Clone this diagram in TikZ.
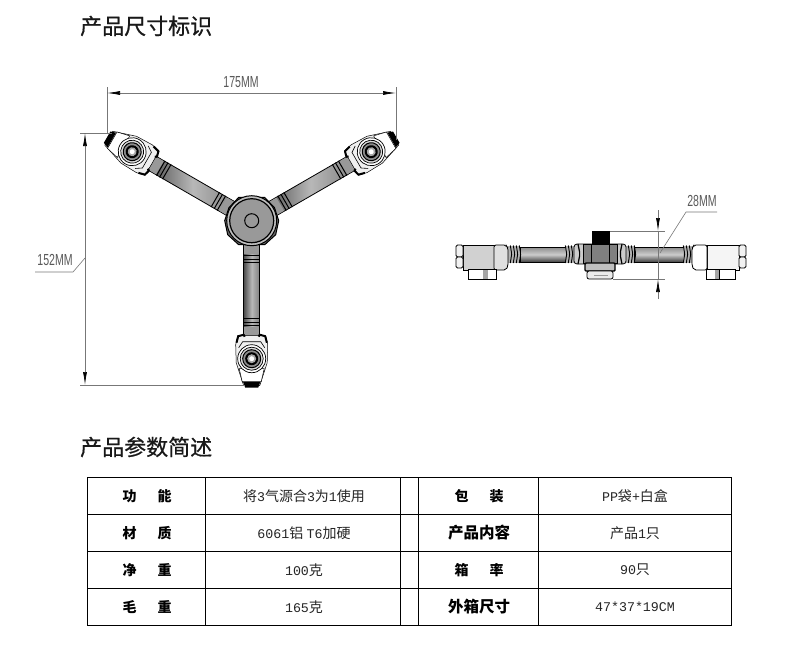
\documentclass[tikz,border=0pt]{standalone}
\usepackage{fontspec}
\setmainfont{Liberation Serif}
\newfontfamily\cjk{Noto Sans CJK SC}
\newfontfamily\cjkh[RawFeature={embolden=0.6}]{Noto Sans CJK SC}
\newfontfamily\dimfont{Liberation Sans}
\newfontfamily\mon{Liberation Mono}
\usetikzlibrary{arrows.meta}
\definecolor{dimgray}{HTML}{777777}
\tikzset{
  x=1pt,y=-1pt,
  heading/.style={font=\cjkh\fontsize{22}{22}\selectfont,anchor=west,inner sep=0pt,text=black!90},
  rowhead/.style={font=\cjk\bfseries\fontsize{14}{15}\selectfont,inner sep=0pt},
  rowwide/.style={font=\cjk\bfseries\fontsize{15.5}{16}\selectfont,inner sep=0pt},
  cellval/.style={font=\cjk\fontsize{14}{15}\selectfont,inner sep=0pt,text=black!85},
  dimtext/.style={font=\dimfont\fontsize{16}{16}\selectfont,xscale=.66,inner sep=0pt,text=black!65},
  dimline/.style={draw=dimgray,line width=.7pt},
  dimarrow/.style={dimline,{Latex[length=13pt,width=4pt,black]}-{Latex[length=13pt,width=4pt,black]}},
  onetip/.style={dimline,-{Latex[length=13pt,width=4pt,black]}},
  grid/.style={draw=black,line width=.9pt},
  outlined/.style={draw=black,line width=.8pt},
  rodshade/.style={outlined,top color=black!45,bottom color=black!75,middle color=black!20},
}
\newcommand\ml[1]{{\mon\fontsize{13.3}{14}\selectfont #1}}
\begin{document}
\begin{tikzpicture}
\useasboundingbox (0,0) rectangle (800,657);
\fill[white] (0,0) rectangle (800,657);
\node[heading] (t1) at (80,26) {产品尺寸标识};
\node[heading] (t2) at (80,447) {产品参数简述};
% ---------- front view arms
\def\onearm#1{%
\begin{scope}[shift={(251.7,220.7)},rotate=#1]
  \draw[outlined,left color=black!70,right color=black!50,middle color=black!28] (-8,20) rectangle (8,116);
  \fill[black!40] (-7.6,24) rectangle (7.6,33);
  \fill[black!40] (-7.6,106) rectangle (7.6,115);
  \foreach \yy in {35,38.5,42,98,101.5,105}
    \draw[black,line width=1pt] (-8.5,\yy) -- (8.5,\yy);
  \draw[black,line width=.5pt,fill=black!6] (-14,115) -- (14,115) -- (16,124) -- (15.5,142) -- (8,165) -- (-8,165) -- (-15.5,142) -- (-16,124) -- cycle;
  \draw[black,line width=2pt,line join=round] (-15.2,122) -- (-13.5,115.5) -- (-8,114) -- (-7,116);
  \draw[black,line width=2pt,line join=round] (15.2,122) -- (13.5,115.5) -- (8,114) -- (7,116);
  \draw[black,line width=.6pt] (-13,127) -- (-9,121) -- (9,121) -- (13,127);
  \draw[black,line width=.5pt,fill=white] (-9.5,161) -- (-12.5,148) -- (12.5,148) -- (9.5,161) -- cycle;
  \fill[black] (-8.5,161.5) -- (8.5,161.5) -- (6.5,167) -- (-6.5,167) -- cycle;
  \draw[black,line width=.7pt,fill=white] (0,138) circle (14);
  \draw[black,line width=.7pt,fill=black!15] (0,138) circle (11.5);
  \draw[black,line width=1pt,fill=black!45] (0,138) circle (9);
  \fill[black] (0,138) circle (6.5);
  \fill[black!35] (0,138) circle (4.5);
  \fill[white] (0,138) circle (2.5);
\end{scope}}
\onearm{0}
\onearm{120}
\onearm{240}
% ---------- hub
\begin{scope}[shift={(251.7,220.7)}]
  \draw[black,line width=1pt,fill=black!60] (22.8,-13) -- (13,-23.3) -- (-13,-23.3) -- (-22.8,-13) -- (-27,0) -- (-24,14) -- (-13,24) -- (13,24) -- (24,14) -- (27,0) -- cycle;
  \draw[black,line width=1pt,fill=black!25] (0,0) circle (25);
  \draw[black,line width=1.2pt,fill=black!40] (0,0) circle (22);
  \draw[black,line width=1pt] (0,0) circle (7);
\end{scope}
% ---------- side view
\draw[rodshade] (520,247) rectangle (566,262);
\draw[rodshade] (634,247) rectangle (683,262);
\foreach \xa/\xb in {508/520,566/574,626/634,683/692}
  \fill[black!30] (\xa,246) rectangle (\xb,263);
\foreach \xx in {511,514,517,520,566,569,572,629,632,635,684,687,690}
  \draw[black,line width=.9pt,rounded corners=1pt] (\xx-.7,245.5) -- (\xx+.7,254) -- (\xx-.7,263);
% left head
\draw[outlined,fill=black!18] (463,245) rectangle (494,270);
\draw[outlined,fill=black!5,rounded corners=1.5pt] (456,245) rectangle (463,257);
\draw[outlined,fill=black!5,rounded corners=1.5pt] (456,257) rectangle (463,268);
\draw[outlined,fill=black!12,rounded corners=2pt] (494,245) -- (506,245) -- (508,248) -- (508,266) -- (506,270) -- (494,270) -- cycle;
\draw[outlined,fill=white] (468,269) rectangle (496,279);
\draw[outlined] (483,269) -- (483,279) (487.5,269) -- (487.5,279);
\fill[black!35] (483,269.5) rectangle (487.5,278.5);
% right head
\draw[outlined,fill=black!4] (707,245) rectangle (739,270);
\draw[outlined,fill=black!5,rounded corners=1.5pt] (739,245) rectangle (746,257);
\draw[outlined,fill=black!5,rounded corners=1.5pt] (739,257) rectangle (746,268);
\draw[outlined,fill=white,rounded corners=2pt] (707,245) -- (694,245) -- (692,248) -- (692,266) -- (694,270) -- (707,270) -- cycle;
\draw[outlined,fill=white] (706,269) rectangle (735,279);
\draw[outlined] (715,269) -- (715,279) (719,269) -- (719,279);
\fill[black!35] (715,269.5) rectangle (719,278.5);
% centre block
\fill[black] (592,231) rectangle (610,244);
\draw[outlined,fill=black!20,rounded corners=3pt] (574,244) rectangle (626,264);
\draw[black,line width=1.2pt,rounded corners=2pt] (578,244) -- (580,254) -- (578,264) (622,244) -- (620,254) -- (622,264);
\draw[outlined,fill=black!50] (583,244) rectangle (617,263);
\draw[outlined] (591,244) -- (591,263) (609,244) -- (609,263);
\draw[black,line width=1.4pt,fill=black!25,rounded corners=1pt] (585,263) rectangle (615,271);
\draw[outlined,fill=black!8,rounded corners=2pt] (587,271) rectangle (613,279);
\draw[black!40,line width=1pt] (594,275) -- (608,275);
% ---------- dimensions
\coordinate (a1) at (107,93); \coordinate (a2) at (396,93);
\draw[dimline] (107,87) -- (107,134);
\draw[dimline] (396,87) -- (396,140);
\draw[dimarrow] (a1) -- (a2);
\node[dimtext] (d175) at (241,82) {175MM};
\coordinate (b1) at (85,133); \coordinate (b2) at (85,385);
\draw[dimline] (80,133) -- (112,133);
\draw[dimline] (80,385) -- (245,385);
\draw[dimarrow] (b1) -- (b2);
\coordinate (l1) at (85,258); \coordinate (l2) at (73,272); \coordinate (l3) at (35,272);
\draw[dimline,line width=.6pt] (l1) -- (l2) -- (l3);
\node[dimtext] (d152) at (55,260) {152MM};
\draw[dimline] (610,231) -- (665,231);
\draw[dimline] (613,279) -- (665,279);
\coordinate (c1) at (658,210); \coordinate (c2) at (658,231);
\coordinate (c3) at (658,279); \coordinate (c4) at (658,299);
\draw[onetip] (c1) -- (c2);
\draw[onetip] (c4) -- (c3);
\draw[dimline] (c2) -- (c3);
\coordinate (m1) at (660,253); \coordinate (m2) at (686,212); \coordinate (m3) at (717,212);
\draw[dimline,line width=.6pt] (m1) -- (m2) -- (m3);
\node[dimtext] (d28) at (702,201) {28MM};
% ---------- table
\draw[grid] (87.3,477.5) rectangle (731,625.5);
\foreach \yy in {514.5,551.5,588.5} \draw[grid] (87.3,\yy) -- (731,\yy);
\foreach \xx in {205.7,400.5,418.3,538.3} \draw[grid] (\xx,477.5) -- (\xx,625.5);
\node[rowhead] (c11) at (147,496) {功\hspace{21pt}能};
\node[rowhead] (c21) at (147,533) {材\hspace{21pt}质};
\node[rowhead] (c31) at (147,570) {净\hspace{21pt}重};
\node[rowhead] (c41) at (147,607) {毛\hspace{21pt}重};
\node[cellval] (c12) at (304,496) {将\ml{3}气源合\ml{3}为\ml{1}使用};
\node[cellval] (c22) at (304,533) {\ml{6061}铝 \ml{T6}加硬};
\node[cellval] (c32) at (304,570) {\ml{100}克};
\node[cellval] (c42) at (304,607) {\ml{165}克};
\node[rowhead] (c13) at (479,496) {包\hspace{21pt}装};
\node[rowwide] (c23) at (479,533) {产品内容};
\node[rowhead] (c33) at (479,570) {箱\hspace{21pt}率};
\node[rowwide] (c43) at (479,607) {外箱尺寸};
\node[cellval] (c14) at (635,496) {\ml{PP}袋\ml{+}白盒};
\node[cellval] (c24) at (635,533) {产品\ml{1}只};
\node[cellval] (c34) at (635,570) {\ml{90}只};
\node[cellval] (c44) at (635,607) {\ml{47*37*19CM}};
\end{tikzpicture}
\end{document}
